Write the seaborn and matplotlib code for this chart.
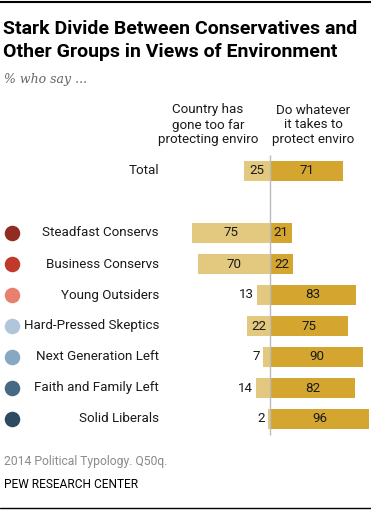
import matplotlib
matplotlib.use("Agg")
import matplotlib.pyplot as plt
import seaborn as sns
import pandas as pd

# ---- data ----
labels = ["Total", "Steadfast Conservs", "Business Conservs", "Young Outsiders",
          "Hard-Pressed Skeptics", "Next Generation Left", "Faith and Family Left",
          "Solid Liberals"]
too_far = [25, 75, 70, 13, 22, 7, 14, 2]
whatever = [71, 21, 22, 83, 75, 90, 82, 96]
dot_colors = [None, "#922B21", "#C0392B", "#E8806F", "#B0C7DB", "#87A8C3", "#476985", "#2C4A61"]
header_left = "Country has\ngone too far\nprotecting enviro"
header_right = "Do whatever\nit takes to\nprotect enviro"
title = "Stark Divide Between Conservatives and\nOther Groups in Views of Environment"
subtitle = "% who say ..."
note = "2014 Political Typology. Q50q."
source = "PEW RESEARCH CENTER"

LIGHT = "#E3C97F"
DARK = "#D4A62F"

sns.set_theme(style="white")
plt.rcParams["font.family"] = ["Roboto", "DejaVu Sans"]

W, H = 371, 512
fig = plt.figure(figsize=(W / 100, H / 100), dpi=100)
ax = fig.add_axes([0, 0, 1, 1])

order = ["Total", " "] + labels[1:]
df = pd.DataFrame({"label": labels, "left": [-v for v in too_far], "right": whatever})

sns.barplot(data=df, x="left", y="label", order=order, orient="h", color=LIGHT,
            saturation=1, width=0.64, linewidth=0, errorbar=None, ax=ax)
sns.barplot(data=df, x="right", y="label", order=order, orient="h", color=DARK,
            saturation=1, width=0.64, linewidth=0, errorbar=None, ax=ax)

scale = 1.035  # px per unit
x0 = 270
ax.set_xlim(-x0 / scale, (W - x0) / scale)
row0, step = 171, 31
ax.set_ylim((H - row0) / step, (0 - row0) / step)
ax.axis("off")

def px(p):
    return p / scale

ax.vlines(0, -0.52, len(order) - 0.48, color="#BBBBBB", lw=1, zorder=3)

fs = 9.6
tc = "#1A1A1A"
for lab, l, r, c in zip(labels, too_far, whatever, dot_colors):
    i = order.index(lab)
    ax.text(px(159 - x0), i, lab, ha="right", va="center", fontsize=fs, color=tc)
    if c is not None:
        ax.scatter([px(12 - x0)], [i], s=125, color=c, linewidths=0, zorder=4)
    if l >= 20:
        ax.text(-l / 2, i, str(l), ha="center", va="center", fontsize=fs, color=tc)
    else:
        ax.text(-l - px(3), i, str(l), ha="right", va="center", fontsize=fs, color=tc)
    ax.text(r / 2, i, str(r), ha="center", va="center", fontsize=fs, color=tc)

def fx(p):
    return p / W

def fy(p):
    return 1 - p / H

fig.text(fx(208), fy(125), header_left, ha="center", va="center", fontsize=fs,
         linespacing=1.2, color=tc)
fig.text(fx(313), fy(125), header_right, ha="center", va="center", fontsize=fs,
         linespacing=1.2, color=tc)

fig.text(fx(3), fy(34), title.split("\n")[0], ha="left", va="baseline",
         fontsize=14, fontweight="bold", color="black")
fig.text(fx(3), fy(57), title.split("\n")[1], ha="left", va="baseline",
         fontsize=14, fontweight="bold", color="black")
fig.text(fx(4), fy(83), subtitle, ha="left", va="baseline", fontsize=9,
         style="italic", family=["DejaVu Serif"], color="#666666")
fig.text(fx(4), fy(465), note, ha="left", va="baseline", fontsize=8.7, color="#8A8A8A")
fig.text(fx(4), fy(488), source, ha="left", va="baseline", fontsize=8.6, color="black")

fig.add_artist(plt.Line2D([0, 1], [fy(1.5), fy(1.5)], color="black", lw=1.5))
fig.add_artist(plt.Line2D([0, 1], [fy(508), fy(508)], color="black", lw=1))

fig.savefig("out.png", dpi=100)
